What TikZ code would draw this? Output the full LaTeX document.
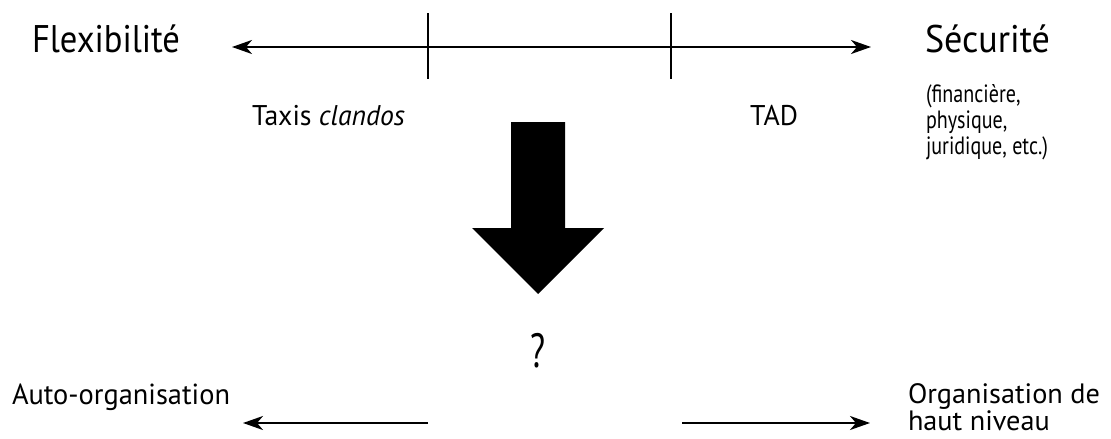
\documentclass[tikz,border=0pt]{standalone}
\usepackage{fontspec}
\setmainfont{PT Sans}
\usetikzlibrary{arrows.meta}
\newcommand\fitw[2]{\resizebox{#1}{\height}{#2}}
\begin{document}
\begin{tikzpicture}[x=1pt,y=-1pt,
  axis/.style={line width=2pt},
  tipr/.style={-{Stealth[length=20pt,width=14pt,inset=6pt]}},
  tipboth/.style={{Stealth[length=20pt,width=14pt,inset=6pt]}-{Stealth[length=20pt,width=14pt,inset=6pt]}},
  lbl/.style={anchor=base west, inner sep=0pt, outer sep=0pt},
]
\useasboundingbox (0,0) rectangle (1111,439);

% top labels
\node[lbl] (flex) at (32,52) {\fontsize{38.5}{40}\selectfont\fitw{148pt}{Flexibilité}};
\node[lbl] (secu) at (925,52) {\fontsize{38.5}{40}\selectfont\fitw{125pt}{Sécurité}};
\node[lbl] (secd) at (926,102) {\fontsize{25}{26}\selectfont\fitw{122pt}{\begin{tabular}[t]{@{}l@{}}(financière,\\physique,\\juridique, etc.)\end{tabular}}};
\node[lbl] (taxi) at (252,125) {\fontsize{28.5}{30}\selectfont\fitw{153pt}{Taxis \textit{clandos}}};
\node[lbl] (tad) at (750,125) {\fontsize{28.5}{30}\selectfont\fitw{48pt}{TAD}};

% top axis
\coordinate (al) at (232,47);
\coordinate (ar) at (871,47);
\draw[axis,tipboth] (al) -- (ar);
\coordinate (t1a) at (428,13); \coordinate (t1b) at (428,79);
\coordinate (t2a) at (671,13); \coordinate (t2b) at (671,79);
\draw[axis] (t1a) -- (t1b);
\draw[axis] (t2a) -- (t2b);

% big arrow
\fill[black] (511,122) -- (565,122) -- (565,228) -- (604,228) -- (538,294) -- (472,228) -- (511,228) -- cycle;

% question mark
\node[anchor=base, inner sep=0pt] (q) at (538,367) {\fontsize{48}{50}\selectfont\fitw{15pt}{?}};

% bottom labels
\node[lbl] (auto) at (12,404) {\fontsize{29}{31}\selectfont\fitw{218pt}{Auto-organisation}};
\node[lbl] (orga) at (908,403) {\fontsize{28}{27}\selectfont\fitw{192pt}{\begin{tabular}[t]{@{}l@{}}Organisation de\\haut niveau\end{tabular}}};

% bottom arrows
\coordinate (bl1) at (428,423); \coordinate (bl2) at (243,423);
\coordinate (br1) at (682,423); \coordinate (br2) at (870,423);
\draw[axis,tipr] (bl1) -- (bl2);
\draw[axis,tipr] (br1) -- (br2);
\end{tikzpicture}
\end{document}
